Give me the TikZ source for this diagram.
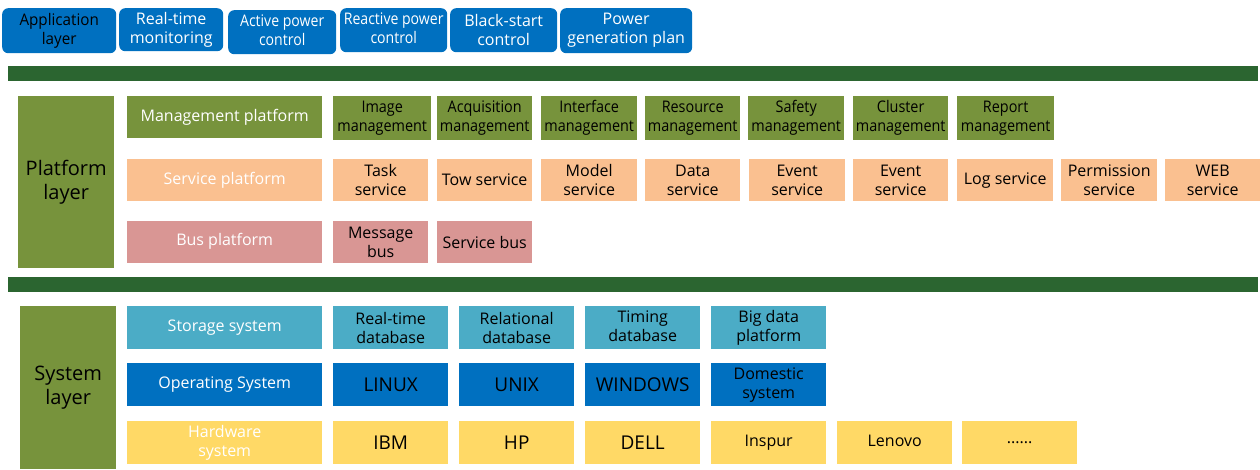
\documentclass[tikz,border=0pt]{standalone}
\usepackage{fontspec}
\usepackage{graphicx}
\setmainfont{Open Sans}
\definecolor{bargreen}{HTML}{2B6530}
\definecolor{olive}{HTML}{77933C}
\definecolor{peach}{HTML}{FAC090}
\definecolor{rose}{HTML}{D99694}
\definecolor{teal}{HTML}{4BACC6}
\definecolor{appblue}{HTML}{0070C0}
\definecolor{hwyellow}{HTML}{FFD966}
\newcommand\mybox[7]{\node[#2, anchor=north west, minimum width={(#5-#3)*1pt}, minimum height={(#6-#4)*1pt}] (#1) at (#3,#4) {#7};}
\newcommand\up[2]{\raisebox{#1pt}{#2}}
\newcommand\cond[2][0.88]{\scalebox{#1}[1]{\begin{tabular}{@{}c@{}}#2\end{tabular}}}
\tikzset{
  base/.style={inner sep=0pt, align=center, font=\fontsize{16}{19}\selectfont},
  app/.style={base, fill=appblue, rounded corners=6pt, text=white},
  mg/.style={base, fill=olive, text=black},
  mgw/.style={base, fill=olive, text=white},
  sv/.style={base, fill=peach, text=black},
  svw/.style={base, fill=peach, text=white},
  bs/.style={base, fill=rose, text=black},
  bsw/.style={base, fill=rose, text=white},
  st/.style={base, fill=teal, text=black},
  stw/.style={base, fill=teal, text=white},
  os/.style={base, fill=appblue, text=black},
  osw/.style={base, fill=appblue, text=white},
  hw/.style={base, fill=hwyellow, text=black},
  hww/.style={base, fill=hwyellow, text=white},
  big/.style={font=\fontsize{19}{23}\selectfont},
  layer/.style={base, fill=olive, text=black, font=\fontsize{20}{24}\selectfont},
  bar/.style={fill=bargreen, inner sep=0pt}
}
\begin{document}
\begin{tikzpicture}[x=1pt,y=-1pt]
\useasboundingbox (0,0) rectangle (1260,469);
% application layer
\mybox{a0}{app,text=black}{2}{8}{116}{53}{\cond[0.95]{Application\\layer}}
\mybox{a1}{app}{119}{8}{223}{51}{Real-time\\monitoring}
\mybox{a2}{app}{228}{10}{336}{54}{\cond{Active power\\control}}
\mybox{a3}{app}{340}{8}{447}{52}{\cond{Reactive power\\control}}
\mybox{a4}{app}{450}{8}{557}{52}{Black-start\\control}
\mybox{a5}{app}{560}{8}{692}{53}{Power\\generation plan}
% bars
\mybox{bar1}{bar}{8}{66}{1258}{81}{}
\mybox{bar2}{bar}{8}{277}{1258}{292}{}
% platform layer
\mybox{pl}{layer}{18}{96}{114}{268}{Platform\\layer}
\mybox{mp}{mgw}{127}{96}{322}{138}{\up{4}{Management platform}}
\mybox{m1}{mg}{333}{96}{431}{140}{\cond[0.9]{Image\\management}}
\mybox{m2}{mg}{437}{96}{532}{140}{\cond[0.9]{Acquisition\\management}}
\mybox{m3}{mg}{541}{96}{637}{140}{\cond[0.9]{Interface\\management}}
\mybox{m4}{mg}{645}{96}{740}{140}{\cond[0.9]{Resource\\management}}
\mybox{m5}{mg}{748}{96}{844}{140}{\cond[0.9]{Safety\\management}}
\mybox{m6}{mg}{853}{96}{948}{140}{\cond[0.9]{Cluster\\management}}
\mybox{m7}{mg}{957}{96}{1054}{140}{\cond[0.9]{Report\\management}}
\mybox{sp}{svw}{127}{159}{322}{201}{\up{2}{Service platform}}
\mybox{s1}{sv}{333}{159}{428}{201}{Task\\service}
\mybox{s2}{sv}{437}{159}{532}{201}{Tow service}
\mybox{s3}{sv}{541}{159}{637}{201}{Model\\service}
\mybox{s4}{sv}{645}{159}{740}{201}{Data\\service}
\mybox{s5}{sv}{749}{159}{845}{201}{Event\\service}
\mybox{s6}{sv}{853}{159}{948}{201}{Event\\service}
\mybox{s7}{sv}{957}{159}{1053}{201}{Log service}
\mybox{s8}{sv}{1061}{159}{1157}{201}{Permission\\service}
\mybox{s9}{sv}{1165}{159}{1260}{201}{WEB\\service}
\mybox{bp}{bsw}{127}{221}{322}{263}{\up{6}{Bus platform}}
\mybox{b1}{bs}{333}{221}{428}{263}{Message\\bus}
\mybox{b2}{bs}{437}{221}{532}{263}{Service bus}
% system layer
\mybox{sl}{layer}{20}{306}{116}{469}{System\\layer}
\mybox{ss}{stw}{127}{306}{322}{349}{\up{3}{Storage system}}
\mybox{d1}{st}{333}{306}{448}{349}{Real-time\\database}
\mybox{d2}{st}{459}{306}{574}{349}{Relational\\database}
\mybox{d3}{st}{585}{306}{700}{349}{\up{3}{\cond[1]{Timing\\database}}}
\mybox{d4}{st}{711}{306}{826}{349}{Big data\\platform}
\mybox{os}{osw}{127}{363}{322}{406}{\up{3}{Operating System}}
\mybox{o1}{os,big}{333}{363}{448}{406}{LINUX}
\mybox{o2}{os,big}{459}{363}{574}{406}{UNIX}
\mybox{o3}{os,big}{585}{363}{700}{406}{WINDOWS}
\mybox{o4}{os}{711}{363}{826}{406}{Domestic\\system}
\mybox{hs}{hww}{127}{421}{322}{464}{Hardware\\system}
\mybox{h1}{hw,big}{333}{421}{448}{464}{IBM}
\mybox{h2}{hw,big}{459}{421}{574}{464}{HP}
\mybox{h3}{hw,big}{585}{421}{700}{464}{DELL}
\mybox{h4}{hw}{711}{421}{826}{464}{\up{3}{Inspur}}
\mybox{h5}{hw}{837}{421}{952}{464}{\up{3}{Lenovo}}
\mybox{h6}{hw}{962}{421}{1077}{464}{......}
\end{tikzpicture}
\end{document}
